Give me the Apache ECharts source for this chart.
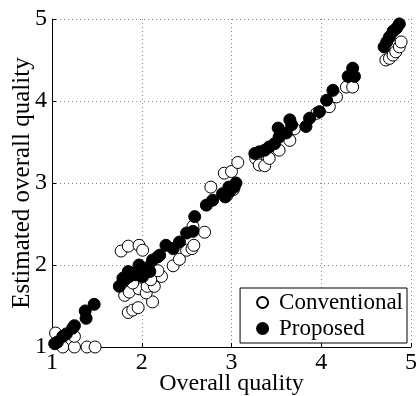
<!DOCTYPE html>
<html>
<head>
<meta charset="utf-8">
<script src="https://cdn.jsdelivr.net/npm/echarts@6/dist/echarts.min.js"></script>
<style>
  html, body { margin: 0; padding: 0; background: #fff; }
  #chart { width: 416px; height: 396px; }
</style>
</head>
<body>
<div id="chart"></div>
<script>
// 轴刻度
var xTicks = [1, 2, 3, 4, 5];
var yTicks = [1, 2, 3, 4, 5];

// Conventional (open circles): [overall quality, estimated]
var conventional = [
    [1.12, 1.0], [1.25, 1.0], [1.39, 1.0], [1.48, 1.0], [1.04, 1.17], [1.25, 1.13],
    [1.77, 2.17], [1.85, 2.23], [1.97, 2.24], [2.01, 2.18],
    [1.85, 1.42], [1.90, 1.45], [1.96, 1.48], [2.12, 1.55],
    [1.81, 1.63], [1.86, 1.67], [1.97, 1.71], [2.05, 1.66], [2.06, 1.74], [2.14, 1.74], [2.22, 1.86],
    [1.90, 1.78], [2.10, 1.82], [2.18, 1.93],
    [2.35, 1.99], [2.42, 2.07], [2.50, 2.18], [2.56, 2.20], [2.58, 2.24], [2.57, 2.47], [2.70, 2.40], [2.77, 2.95],
    [2.92, 3.12], [3.00, 3.14], [3.07, 3.25], [2.95, 2.85], [3.02, 2.92],
    [3.27, 3.30], [3.31, 3.22], [3.37, 3.21], [3.42, 3.30], [3.53, 3.40], [3.65, 3.52], [3.70, 3.66],
    [3.95, 3.85], [4.09, 3.93], [4.17, 4.05], [4.28, 4.17], [4.35, 4.17],
    [4.72, 4.50], [4.76, 4.52], [4.80, 4.56], [4.83, 4.60], [4.87, 4.66], [4.89, 4.72]
];

// Proposed (filled circles)
var proposed = [
    [1.03, 1.04], [1.06, 1.06], [1.12, 1.13], [1.16, 1.16], [1.23, 1.23], [1.25, 1.26],
    [1.38, 1.35], [1.37, 1.44], [1.47, 1.52],
    [1.75, 1.74], [1.79, 1.84], [1.85, 1.92], [1.90, 1.90], [1.97, 2.00], [2.01, 1.94],
    [2.07, 1.97], [2.12, 2.06], [2.18, 2.10], [2.20, 2.12],
    [1.81, 1.82], [1.86, 1.86], [1.94, 1.88], [2.01, 1.86], [2.09, 1.92],
    [2.27, 2.24], [2.35, 2.20], [2.42, 2.28], [2.50, 2.39], [2.57, 2.41], [2.59, 2.59],
    [2.72, 2.73], [2.79, 2.79], [2.90, 2.87],
    [2.93, 2.83], [2.98, 2.90], [3.03, 2.95], [3.05, 3.00], [2.97, 2.95],
    [3.26, 3.36], [3.31, 3.38], [3.37, 3.40], [3.42, 3.44], [3.48, 3.48], [3.52, 3.67],
    [3.53, 3.56], [3.61, 3.61], [3.65, 3.77], [3.67, 3.71], [3.83, 3.69], [3.87, 3.79],
    [3.98, 3.87], [4.06, 4.01], [4.13, 4.13], [4.30, 4.30], [4.35, 4.40], [4.37, 4.30],
    [4.70, 4.66], [4.73, 4.72], [4.76, 4.78], [4.80, 4.85], [4.84, 4.89], [4.87, 4.94]
];

var serif = 'Liberation Serif';
var chart = echarts.init(document.getElementById('chart'));

var gridLine = { show: true, lineStyle: { color: '#888', type: [1, 3], width: 1 } };

var option = {
    animation: false,
    grid: { left: 52, right: 5, top: 19, bottom: 49, containLabel: false, outerBoundsMode: 'none' },
    legend: {
        right: 9,
        bottom: 53,
        orient: 'vertical',
        backgroundColor: '#fff',
        borderColor: '#000',
        borderWidth: 1,
        borderRadius: 0,
        padding: [3, 4, 3, 16],
        itemGap: 3,
        itemWidth: 11,
        itemHeight: 11,
        textStyle: { fontFamily: serif, fontSize: 23, color: '#000', padding: [0, 0, 0, 6] },
        data: ['Conventional', 'Proposed']
    },
    xAxis: {
        type: 'value',
        min: 1, max: 5, interval: 1,
        name: 'Overall quality',
        nameLocation: 'middle',
        nameGap: 25,
        nameMoveOverlap: false,
        nameTextStyle: { fontFamily: serif, fontSize: 24, color: '#000' },
        axisLine: { lineStyle: { color: '#000', width: 1 } },
        axisTick: { inside: true, length: 4, lineStyle: { color: '#000' } },
        axisLabel: {
            fontFamily: serif, fontSize: 24, color: '#000', margin: 4,
            formatter: function (v) { return xTicks.indexOf(v) >= 0 ? String(v) : ''; }
        },
        splitLine: gridLine
    },
    yAxis: {
        type: 'value',
        min: 1, max: 5, interval: 1,
        name: 'Estimated overall quality',
        nameLocation: 'middle',
        nameGap: 17,
        nameMoveOverlap: false,
        nameTextStyle: { fontFamily: serif, fontSize: 25, color: '#000' },
        axisLine: { show: true, lineStyle: { color: '#000', width: 1 } },
        axisTick: { show: true, inside: true, length: 4, lineStyle: { color: '#000' } },
        axisLabel: {
            fontFamily: serif, fontSize: 24, color: '#000', margin: 5,
            formatter: function (v) { return yTicks.indexOf(v) >= 0 ? String(v) : ''; }
        },
        splitLine: gridLine
    },
    series: [
        {
            name: 'Conventional',
            type: 'scatter',
            symbol: 'circle',
            symbolSize: 12,
            data: conventional,
            itemStyle: { color: '#fff', borderColor: '#000', borderWidth: 1, opacity: 1 }
        },
        {
            name: 'Proposed',
            type: 'scatter',
            symbol: 'circle',
            symbolSize: 12,
            data: proposed,
            itemStyle: { color: '#000', borderColor: '#000', borderWidth: 1, opacity: 1 }
        }
    ]
};

chart.setOption(option);
</script>
</body>
</html>
